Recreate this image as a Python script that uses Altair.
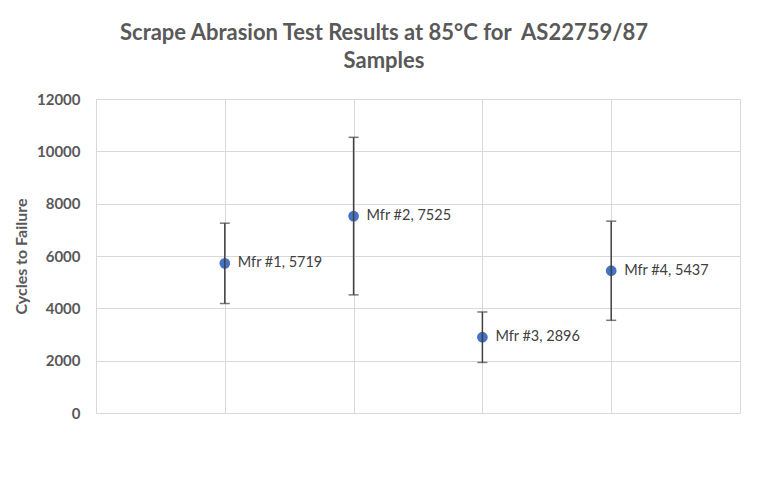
import altair as alt
import pandas as pd

# ---- data ----
positions = [1, 2, 3, 4]
makers = ["Mfr #1", "Mfr #2", "Mfr #3", "Mfr #4"]
cycles = [5719, 7525, 2896, 5437]
errors = [1535, 3010, 965, 1895]

df = pd.DataFrame({
    "pos": positions,
    "maker": makers,
    "cycles": cycles,
    "err": errors,
})
df["low"] = df["cycles"] - df["err"]
df["high"] = df["cycles"] + df["err"]
df["label"] = [f"{m}, {c}" for m, c in zip(makers, cycles)]

FONT = "Lato"
GRID = "#D9D9D9"

x_enc = alt.X("pos:Q", scale=alt.Scale(domain=[0, 5], nice=False),
              axis=alt.Axis(values=[0, 1, 2, 3, 4, 5], labels=False, ticks=False,
                            domain=False, grid=True, gridColor=GRID, title=None))
y_scale = alt.Scale(domain=[0, 12000], nice=False)
y_enc = alt.Y("cycles:Q", scale=y_scale,
              axis=alt.Axis(values=list(range(0, 12001, 2000)), grid=True, gridColor=GRID,
                            domain=False, ticks=False, labelPadding=16, format="d",
                            labelFont=FONT, labelFontSize=15, labelColor="#595959",
                            labelFontWeight="bold",
                            title="Cycles to Failure", titleFont=FONT, titleFontSize=16,
                            titleColor="#595959", titleFontWeight="bold", titlePadding=7))

base = alt.Chart(df)

rules = base.mark_rule(color="#404040", strokeWidth=1.5).encode(
    x=x_enc,
    y=alt.Y("low:Q", scale=y_scale),
    y2="high:Q",
)
caps_lo = base.mark_tick(color="#404040", thickness=1.5, size=10, orient="horizontal").encode(
    x="pos:Q", y=alt.Y("low:Q", scale=y_scale))
caps_hi = base.mark_tick(color="#404040", thickness=1.5, size=10, orient="horizontal").encode(
    x="pos:Q", y=alt.Y("high:Q", scale=y_scale))

points = base.mark_circle(color="#4472C4", size=115, opacity=1).encode(
    x="pos:Q", y=y_enc)

labels = base.mark_text(align="left", baseline="middle", dx=13, font=FONT,
                        fontSize=14.5, color="#404040").encode(
    x="pos:Q", y=alt.Y("cycles:Q", scale=y_scale), text="label:N")

chart = alt.layer(points, rules, caps_lo, caps_hi, labels).properties(
    width=644,
    height=314,
    autosize=alt.AutoSizeParams(type="none"),
    padding={"left": 88, "top": 91, "right": 20, "bottom": 74},
    title=alt.TitleParams(
        text=["Scrape Abrasion Test Results at 85\u00b0C for \u00a0AS22759/87", "Samples"],
        font=FONT, fontSize=22, fontWeight="bold", color="#595959",
        anchor="middle", frame="group", dx=-34, offset=19, lineHeight=28,
    ),
).configure_view(stroke=GRID, strokeWidth=1).configure(background="white")

chart.save("out.html", embed_options={"renderer": "svg", "actions": False})
